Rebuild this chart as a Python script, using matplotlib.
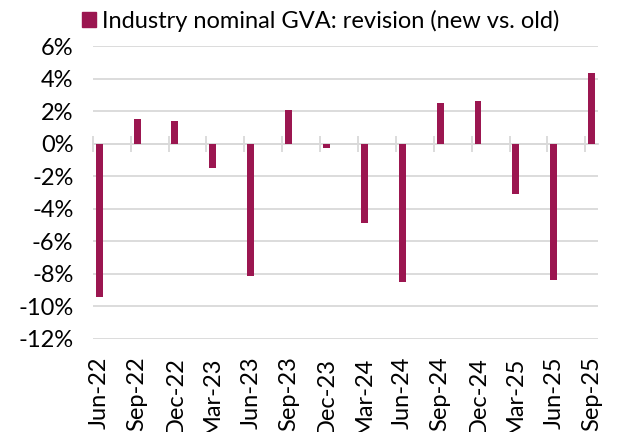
import matplotlib.pyplot as plt
import matplotlib.transforms as mtransforms
from matplotlib.patches import Patch

# quarterly revisions, % (new vs. old)
quarters = ['Jun-22', 'Sep-22', 'Dec-22', 'Mar-23', 'Jun-23', 'Sep-23', 'Dec-23',
            'Mar-24', 'Jun-24', 'Sep-24', 'Dec-24', 'Mar-25', 'Jun-25', 'Sep-25']
revision = [-9.4, 1.5, 1.4, -1.5, -8.15, 2.05, -0.25,
            -4.85, -8.5, 2.5, 2.6, -3.1, -8.4, 4.35]
yticks = [6, 4, 2, 0, -2, -4, -6, -8, -10, -12]

bar_col = '#9b1650'
grid_col = '#d9d9d9'
fs = 17

plt.rcParams['font.family'] = ['Lato', 'DejaVu Sans']

fig = plt.figure(figsize=(6.19, 4.32), dpi=100)
ax = fig.add_axes([0.150, 0.2153, 0.816, 0.6782])

# month-based x positions: tick at quarter start, bar half a month later
tick_pos = [3 * i for i in range(len(quarters))]
bar_pos = [p + 0.5 for p in tick_pos]

ax.bar(bar_pos, revision, width=0.55, color=bar_col, zorder=3)

ax.set_xlim(0, 3 * len(quarters) - 2)
ax.set_ylim(-12, 6)
ax.set_yticks(yticks)
ax.set_yticklabels(['%d%%' % v for v in yticks], fontsize=fs)
ax.yaxis.grid(True, color=grid_col, linewidth=1.3)
ax.set_axisbelow(True)
ax.tick_params(axis='y', length=0, pad=14)

for s in ['top', 'right', 'left']:
    ax.spines[s].set_visible(False)
ax.spines['bottom'].set_position(('data', 0))
ax.spines['bottom'].set_color(grid_col)
ax.spines['bottom'].set_linewidth(1.3)
ax.set_xticks(tick_pos)
ax.set_xticklabels([])
ax.tick_params(axis='x', direction='inout', length=11.5, width=1.3, color=grid_col)

trans = mtransforms.blended_transform_factory(ax.transData, ax.transAxes)
for x, lab in zip(bar_pos, quarters):
    ax.text(x, -0.06, lab, transform=trans, rotation=90, ha='center', va='top',
            fontsize=fs)

fig.legend(handles=[Patch(color=bar_col, label='Industry nominal GVA: revision (new vs. old)')],
           loc='upper left', bbox_to_anchor=(0.1325, 0.978), frameon=False,
           fontsize=fs, handlelength=0.6, handleheight=0.6, handletextpad=0.25,
           borderpad=0, borderaxespad=0)

fig.savefig('out.png', dpi=100)
